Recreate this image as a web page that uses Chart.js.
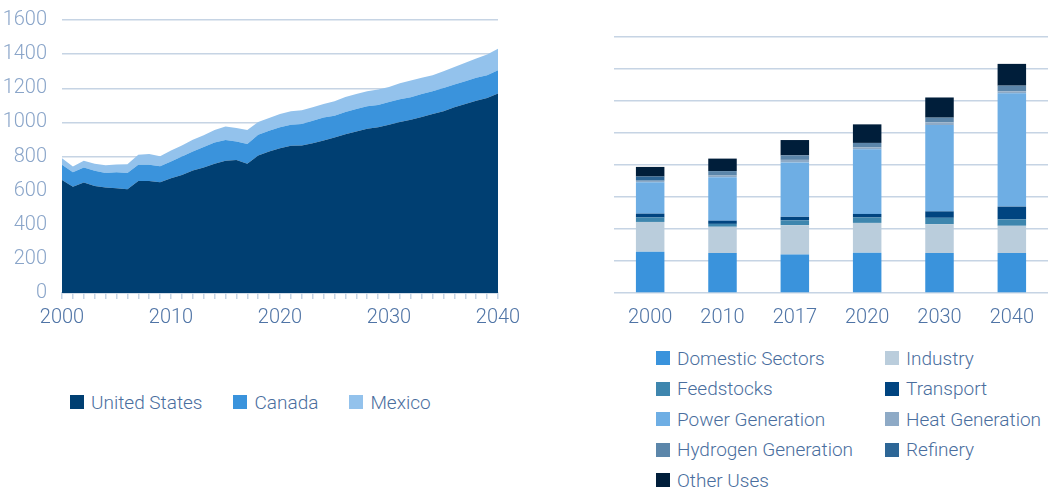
<!DOCTYPE html>
<html>
<head>
<meta charset="utf-8">
<script src="https://cdn.jsdelivr.net/npm/chart.js@4.4.1/dist/chart.umd.min.js"></script>
<style>
    body { margin: 0; background: #fff; font-family: Roboto, sans-serif; font-weight: 300; }
    #wrap { position: relative; width: 1052px; height: 488px; overflow: hidden; }
    .box { position: absolute; }
    #leftBox { left: 0; top: -7px; width: 530px; height: 347px; }
    #rightBox { left: 600px; top: 0; width: 452px; height: 346px; }
    .legend { position: absolute; color: #4a6e9e; font-size: 19px; }
    #leftLegend { left: 70px; top: 391px; display: flex; }
    #leftLegend .item { margin-right: 31px; }
    #rightLegend { left: 656px; top: 347px; display: grid; grid-template-columns: 229px auto; grid-auto-rows: 30.5px; }
    .item { display: flex; align-items: center; height: 22px; white-space: nowrap; }
    .sw { width: 14px; height: 14px; margin-right: 7px; flex: none; }
</style>
</head>
<body>
<div id="wrap">
    <div class="box" id="leftBox"><canvas id="areaChart"></canvas></div>
    <div class="box" id="rightBox"><canvas id="barChart"></canvas></div>
    <div class="legend" id="leftLegend"></div>
    <div class="legend" id="rightLegend"></div>
</div>
<script>
// ─── DONNÉES : graphique de gauche ────────────────────────────────────────
const years = [2000, 2001, 2002, 2003, 2004, 2005, 2006, 2007, 2008, 2009,
               2010, 2011, 2012, 2013, 2014, 2015, 2016, 2017, 2018, 2019,
               2020, 2021, 2022, 2023, 2024, 2025, 2026, 2027, 2028, 2029,
               2030, 2031, 2032, 2033, 2034, 2035, 2036, 2037, 2038, 2039, 2040];

const unitedStates = [663, 623, 647, 627, 618, 614, 608, 657, 657, 649,
                      673, 692, 718, 735, 757, 775, 780, 757, 806, 829,
                      849, 863, 865, 878, 894, 912, 931, 947, 963, 971,
                      986, 1002, 1016, 1031, 1049, 1065, 1088, 1108, 1127, 1143, 1169];

const canada = [88, 85, 88, 89, 86, 94, 96, 94, 94, 94,
                98, 108, 111, 120, 125, 121, 108, 116, 121, 122,
                122, 123, 125, 132, 135, 127, 130, 131, 131, 131,
                134, 133, 131, 136, 133, 137, 134, 133, 134, 133, 137];

const mexico = [39, 33, 40, 41, 45, 45, 51, 59, 63, 59,
                64, 65, 69, 69, 73, 80, 79, 82, 75, 74,
                78, 79, 81, 78, 79, 85, 88, 89, 88, 90,
                88, 94, 98, 94, 94, 98, 103, 108, 114, 122, 125];

const yTicksLeft = [0, 200, 400, 600, 800, 1000, 1200, 1400, 1600];

// ─── DONNÉES : graphique de droite ────────────────────────────────────────
const barYears = ['2000', '2010', '2017', '2020', '2030', '2040'];

const domesticSectors    = [129, 125, 120, 126, 125, 125];
const industry           = [93, 82, 92, 93, 90, 85];
const feedstocks         = [14, 9, 15, 17, 20, 20];
const transport          = [12, 10, 11, 11, 20, 40];
const powerGeneration    = [98, 136, 170, 202, 270, 354];
const heatGeneration     = [5, 5, 8, 6, 8, 6];
const hydrogenGeneration = [0, 14, 14, 14, 15, 18];
const refinery           = [13, 0, 0, 0, 0, 0];
const otherUses          = [30, 39, 48, 58, 63, 68];

const yTicksRight = [0, 100, 200, 300, 400, 500, 600, 700, 800];

// ─── STYLE COMMUN ─────────────────────────────────────────────────────────
const tickFont = { family: 'Roboto', size: 20, weight: '300' };
const gridColor = '#c6d4e4';

// ─── GRAPHIQUE EN AIRES ───────────────────────────────────────────────────
const areaDs = (label, data, color, fill) => ({
    label, data, fill,
    backgroundColor: color,
    borderColor: color,
    borderWidth: 0,
    pointRadius: 0,
    tension: 0
});

const areaChart = new Chart(document.getElementById('areaChart'), {
    type: 'line',
    data: {
        labels: years,
        datasets: [
            areaDs('United States', unitedStates, '#003f72', 'origin'),
            areaDs('Canada', canada, '#3a93dc', '-1'),
            areaDs('Mexico', mexico, '#93c2ec', '-1')
        ]
    },
    options: {
        responsive: true,
        maintainAspectRatio: false,
        animation: false,
        layout: { padding: { top: 12, right: 32, bottom: 3, left: 0 } },
        plugins: { legend: { display: false }, tooltip: { enabled: false } },
        scales: {
            x: {
                grid: { drawOnChartArea: false, drawTicks: true, tickLength: 6, color: gridColor, lineWidth: 1.5 },
                border: { color: gridColor, width: 1.5 },
                ticks: {
                    autoSkip: false, maxRotation: 0, padding: 7,
                    color: '#4f74a6', font: tickFont,
                    callback: (v, i) => (years[i] % 10 === 0 ? String(years[i]) : '')
                }
            },
            y: {
                stacked: true,
                min: yTicksLeft[0],
                max: yTicksLeft[yTicksLeft.length - 1],
                afterBuildTicks: s => { s.ticks = yTicksLeft.map(v => ({ value: v })); },
                afterFit: s => { s.width = 62; },
                ticks: { padding: 15, color: '#8aa5c9', font: tickFont, callback: v => String(v) },
                grid: { drawTicks: false, color: gridColor, lineWidth: 1.5 },
                border: { display: false }
            }
        }
    }
});

// ─── GRAPHIQUE EN BARRES EMPILÉES ────────────────────────────────────────
const barDs = (label, data, color) => ({
    label, data,
    backgroundColor: color,
    borderWidth: 0,
    barPercentage: 0.394,
    categoryPercentage: 1
});

const barChart = new Chart(document.getElementById('barChart'), {
    type: 'bar',
    data: {
        labels: barYears,
        datasets: [
            barDs('Domestic Sectors', domesticSectors, '#3a93dc'),
            barDs('Industry', industry, '#bacddc'),
            barDs('Feedstocks', feedstocks, '#3e86ae'),
            barDs('Transport', transport, '#004480'),
            barDs('Power Generation', powerGeneration, '#6eaee4'),
            barDs('Heat Generation', heatGeneration, '#8eaac6'),
            barDs('Hydrogen Generation', hydrogenGeneration, '#5c86aa'),
            barDs('Refinery', refinery, '#2d6696'),
            barDs('Other Uses', otherUses, '#001e3a')
        ]
    },
    options: {
        responsive: true,
        maintainAspectRatio: false,
        animation: false,
        layout: { padding: { top: 37, right: 4, bottom: 3, left: 14 } },
        plugins: { legend: { display: false }, tooltip: { enabled: false } },
        scales: {
            x: {
                stacked: true,
                grid: { display: false, drawTicks: false },
                border: { display: false },
                ticks: { padding: 13, color: '#4f74a6', font: tickFont }
            },
            y: {
                stacked: true,
                min: yTicksRight[0],
                max: yTicksRight[yTicksRight.length - 1],
                afterBuildTicks: s => { s.ticks = yTicksRight.map(v => ({ value: v })); },
                afterFit: s => { s.width = 0; },
                ticks: { display: false },
                grid: { drawTicks: false, color: gridColor, lineWidth: 1.5 },
                border: { display: false }
            }
        }
    }
});

// ─── LÉGENDES HTML ────────────────────────────────────────────────────────
function buildLegend(chart, elId) {
    const el = document.getElementById(elId);
    chart.data.datasets.forEach(ds => {
        const item = document.createElement('div');
        item.className = 'item';
        item.innerHTML = `<span class="sw" style="background:${ds.backgroundColor}"></span><span>${ds.label}</span>`;
        el.appendChild(item);
    });
}

buildLegend(areaChart, 'leftLegend');
buildLegend(barChart, 'rightLegend');
</script>
</body>
</html>
